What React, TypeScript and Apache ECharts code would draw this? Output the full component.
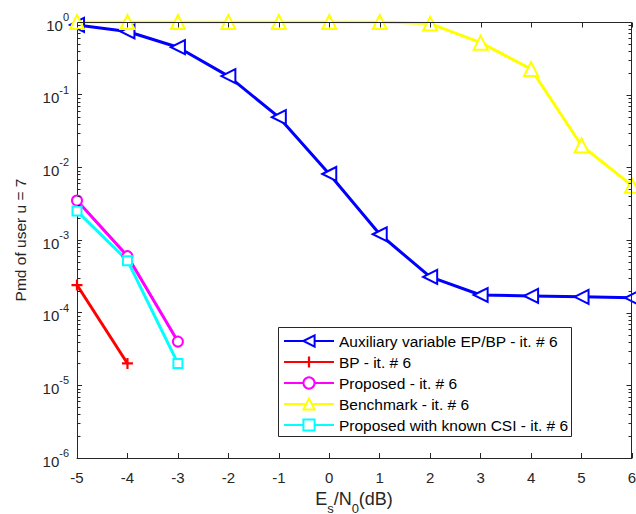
import React, { useEffect, useRef } from "react";
import * as echarts from "echarts";

const xValues = [-5, -4, -3, -2, -1, 0, 1, 2, 3, 4, 5, 6];
const auxEpBp = [0.91, 0.74, 0.45, 0.18, 0.049, 0.0081, 0.0012, 0.00031, 0.000175, 0.00017, 0.000165, 0.00016];
const bpX = [-5, -4];
const bp = [0.00024, 0.00002];
const proposedX = [-5, -4, -3];
const proposed = [0.0035, 0.0006, 0.00004];
const benchmark = [1, 1, 1, 1, 1, 1, 1, 0.95, 0.52, 0.225, 0.02, 0.0056];
const csiX = [-5, -4, -3];
const proposedCsi = [0.0025, 0.00052, 0.00002];

const seriesNames = [
  "Auxiliary variable EP/BP - it. # 6",
  "BP - it. # 6",
  "Proposed - it. # 6",
  "Benchmark - it. # 6",
  "Proposed with known CSI - it. # 6",
];

const xTicks = { min: -5, max: 6, interval: 1 };
const yDecades = { minExp: -6, maxExp: 0 };

const AX = "#262626";
const FONT = "'Liberation Sans', Arial, Helvetica, sans-serif";
const PLUS = "path://M4,0H6V4H10V6H6V10H4V6H0V4H4Z";

function pairs(xs: number[], ys: number[]) {
  return xs.map((x, i) => [x, ys[i]]);
}

export default function App() {
  const ref = useRef<HTMLDivElement>(null);
  useEffect(() => {
    if (!ref.current) return;
    const chart = echarts.init(ref.current, null, { renderer: "svg" });

    const lw = 3;
    const labels = [
      {
        type: "text",
        x: 20,
        y: 240,
        rotation: Math.PI / 2,
        style: {
          text: "Pmd of user u = 7",
          fontSize: 15.5,
          fontFamily: FONT,
          fill: AX,
          align: "center",
          verticalAlign: "middle",
        },
      },
      {
        type: "text",
        x: 354,
        y: 502,
        style: {
          text: "{n|E}{sub|s}{n|/N}{sub|0}{n|(dB)}",
          align: "center",
          verticalAlign: "middle",
          rich: {
            n: { fontSize: 18, fontFamily: FONT, fill: AX, verticalAlign: "top", lineHeight: 25 },
            sub: { fontSize: 13, fontFamily: FONT, fill: AX, verticalAlign: "bottom", lineHeight: 25 },
          },
        },
      },
      {
        type: "rect",
        z: 3,
        shape: { x: 278.5, y: 327.5, width: 293, height: 109 },
        style: { fill: "#fff", stroke: AX, lineWidth: 1 },
      },
    ];

    chart.setOption({
      animation: false,
      textStyle: { fontFamily: FONT },
      grid: {
        left: 77,
        right: 4,
        top: 22,
        bottom: 56,
        outerBoundsMode: "none",
        containLabel: false,
      },
      xAxis: {
        type: "value",
        min: xTicks.min,
        max: xTicks.max,
        interval: xTicks.interval,
        axisLine: { show: true, onZero: false, lineStyle: { color: AX, width: 1 } },
        axisTick: { show: true, inside: true, length: 5, lineStyle: { color: AX } },
        splitLine: { show: false },
        axisLabel: { color: AX, fontSize: 15, margin: 12, fontFamily: FONT },
      },
      yAxis: {
        type: "log",
        logBase: 10,
        min: Math.pow(10, yDecades.minExp),
        max: Math.pow(10, yDecades.maxExp),
        axisLine: { show: true, onZero: false, lineStyle: { color: AX, width: 1 } },
        axisTick: { show: true, inside: true, length: 5, lineStyle: { color: AX } },
        splitLine: { show: false },
        axisLabel: {
          color: AX,
          margin: 8,
          formatter: (v: number) => `{b|10}{s|${Math.round(Math.log10(v))}}`,
          rich: {
            b: { fontSize: 15, color: AX, fontFamily: FONT, verticalAlign: "bottom", lineHeight: 21 },
            s: { fontSize: 11, color: AX, fontFamily: FONT, verticalAlign: "top", lineHeight: 21 },
          },
        },
      },
      legend: {
        orient: "vertical",
        left: 278,
        top: 327,
        padding: [6, 17, 4, 5],
        itemWidth: 50,
        itemHeight: 14,
        itemGap: 5,
        z: 5,
        backgroundColor: "transparent",
        borderWidth: 0,
        textStyle: { fontSize: 15.5, lineHeight: 16, color: "#000", fontFamily: FONT },
        data: seriesNames,
      },
      series: [
        {
          name: seriesNames[0],
          type: "line",
          data: pairs(xValues, auxEpBp),
          symbol: "emptyTriangle",
          symbolRotate: 90,
          symbolSize: 14,
          lineStyle: { color: "#0000ff", width: lw },
          itemStyle: { color: "#0000ff", borderColor: "#0000ff", borderWidth: 2.5 },
        },
        {
          name: seriesNames[1],
          type: "line",
          data: pairs(bpX, bp),
          symbol: PLUS,
          symbolSize: 11,
          lineStyle: { color: "#ff0000", width: lw },
          itemStyle: { color: "#ff0000" },
        },
        {
          name: seriesNames[2],
          type: "line",
          data: pairs(proposedX, proposed),
          symbol: "emptyCircle",
          symbolSize: 10,
          lineStyle: { color: "#ff00ff", width: lw },
          itemStyle: { color: "#ff00ff", borderColor: "#ff00ff", borderWidth: 2.5 },
        },
        {
          name: seriesNames[3],
          type: "line",
          data: pairs(xValues, benchmark),
          symbol: "emptyTriangle",
          symbolSize: 14,
          lineStyle: { color: "#ffff00", width: lw },
          itemStyle: { color: "#ffff00", borderColor: "#ffff00", borderWidth: 3 },
        },
        {
          name: seriesNames[4],
          type: "line",
          data: pairs(csiX, proposedCsi),
          symbol: "emptyRect",
          symbolSize: 9,
          lineStyle: { color: "#00ffff", width: lw },
          itemStyle: { color: "#00ffff", borderColor: "#00ffff", borderWidth: 2.5 },
        },
      ],
      graphic: labels,
    });

    // Box and extra ticks, positioned through the chart's own scales
    const px = (x: number, y: number) => chart.convertToPixel({ gridIndex: 0 }, [x, y]) as number[];
    const tl = px(xTicks.min, Math.pow(10, yDecades.maxExp));
    const br = px(xTicks.max, Math.pow(10, yDecades.minExp));
    const left = Math.round(tl[0]) + 0.5;
    const top = Math.round(tl[1]) + 0.5;
    const right = Math.round(br[0]) - 0.5;
    const bottom = Math.round(br[1]) + 0.5;
    const st = { stroke: AX, lineWidth: 1 };
    const lines: any[] = [];
    lines.push({ type: "line", z: 6, shape: { x1: left, y1: top, x2: right, y2: top }, style: st });
    lines.push({ type: "line", z: 6, shape: { x1: right, y1: top, x2: right, y2: bottom }, style: st });
    for (let v = xTicks.min; v <= xTicks.max; v += xTicks.interval) {
      const x = Math.round(px(v, 1)[0]) + 0.5;
      lines.push({ type: "line", z: 6, shape: { x1: x, y1: top, x2: x, y2: top + 5 }, style: st });
    }
    for (let d = yDecades.minExp; d <= yDecades.maxExp; d++) {
      const y = Math.round(px(0, Math.pow(10, d))[1]) + 0.5;
      lines.push({ type: "line", z: 6, shape: { x1: right, y1: y, x2: right - 5, y2: y }, style: st });
      if (d === yDecades.maxExp) break;
      for (let k = 2; k <= 9; k++) {
        const my = Math.round(px(0, k * Math.pow(10, d))[1]) + 0.5;
        lines.push({ type: "line", z: 6, shape: { x1: left, y1: my, x2: left + 3, y2: my }, style: st });
        lines.push({ type: "line", z: 6, shape: { x1: right, y1: my, x2: right - 3, y2: my }, style: st });
      }
    }
    chart.setOption({ graphic: [...labels, ...lines] });

    return () => chart.dispose();
  }, []);
  return (
    <div
      ref={ref}
      style={{ position: "fixed", left: 0, top: 0, width: 636, height: 514, background: "#fff" }}
    />
  );
}
